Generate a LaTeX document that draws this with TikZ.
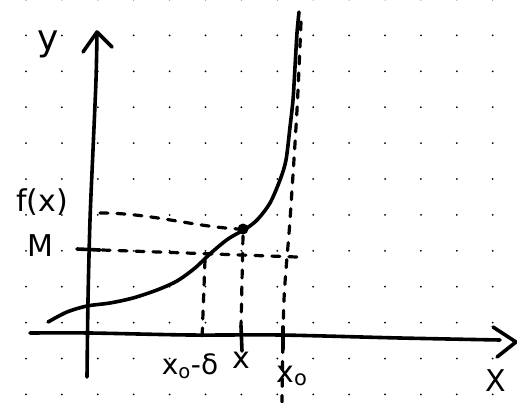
\documentclass[tikz,border=0pt]{standalone}
\usepackage{fontspec}
\setmainfont{DejaVu Sans}
\begin{document}
\begin{tikzpicture}[x=1pt,y=-1pt, line cap=round, line join=round,
  stroke/.style={line width=3.6pt},
  dsh/.style={line width=3.2pt, dash pattern=on 8pt off 9pt},
  lbl/.style={inner sep=0pt, font=\fontsize{30}{30}\selectfont}]
\useasboundingbox (0,0) rectangle (517,402);
\fill[white] (0,0) rectangle (517,402);
% dot grid
\foreach \i in {0,...,13} \foreach \j in {0,...,11}
  \fill (26+35.9*\i, -0.5+35.9*\j) circle (1pt);
% y axis
\draw[stroke] plot[smooth] coordinates {(87,377) (88,300) (90,220) (93,150) (96,80) (97,33)};
\draw[stroke] (83,52) -- (97,32) -- (112,47);
% x axis
\draw[stroke] plot[smooth] coordinates {(30,333) (90,333) (190,335) (280,335) (400,338) (500,340)};
\draw[stroke] (493,327) -- (516,342) -- (497,357);
% curve
\draw[stroke] plot[smooth] coordinates {(48,322) (67,312) (87,306) (110,303) (133,298) (157,290) (177,281) (195,268) (211,253) (228,239) (247,228) (258,219) (270,203) (280,180) (286,160) (290,127) (293,100) (295,67) (297,33) (299,12)};
\fill (243,229) circle (5.5pt);
% dashed guides
\draw[dsh] (100,213) .. controls (150,213) and (190,226) .. (238,229);
\draw[stroke] (77,249) -- (100,250);
\draw[dsh] (102,250) -- (297,257);
\draw[dsh] (205,260) -- (202,340);
\draw[dsh] (243,236) -- (241,327);
\draw[stroke] (241,326) -- (242,351);
\draw[dsh] plot[smooth] coordinates {(301,22) (297,110) (290,220) (284,300) (282,402)};
\draw[stroke] (283,327) -- (283,349);
% labels
\node[lbl, font=\fontsize{36}{36}\selectfont] (ly) at (48,44) {y};
\node[lbl] (lf) at (42,202) {f(x)};
\node[lbl] (lm) at (40,246) {M};
\node[lbl, font=\fontsize{28}{28}\selectfont] (lxd) at (190,366) {x\textsubscript{o}-δ};
\node[lbl, font=\fontsize{30}{30}\selectfont] (lx) at (241,360) {x};
\node[lbl, font=\fontsize{30}{30}\selectfont] (lx0) at (292,376) {x\textsubscript{o}};
\node[lbl, font=\fontsize{30}{30}\selectfont] (lX) at (496,381) {X};
\end{tikzpicture}
\end{document}
